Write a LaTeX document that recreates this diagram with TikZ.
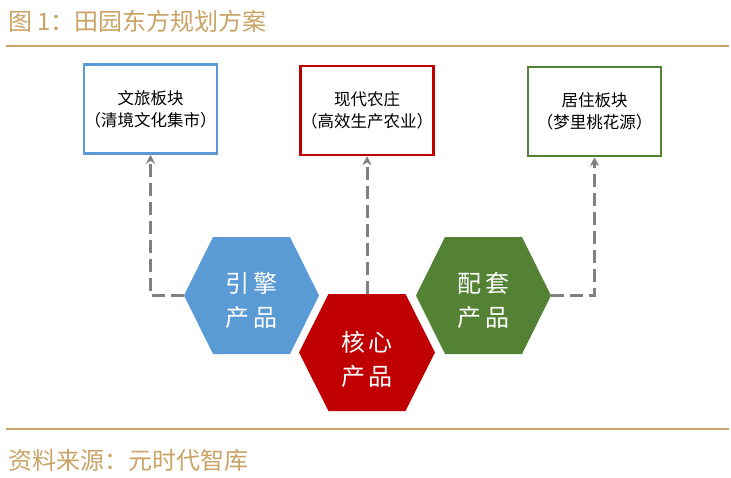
\documentclass[tikz,border=0pt]{standalone}
\usepackage{fontspec}
\setmainfont{Noto Sans CJK SC}
\usetikzlibrary{arrows.meta}
\definecolor{gold}{RGB}{201,164,102}
\definecolor{hexblue}{RGB}{91,155,213}
\definecolor{hexred}{RGB}{192,0,0}
\definecolor{hexgreen}{RGB}{84,130,53}
\definecolor{conngray}{RGB}{128,128,128}

\begin{document}
\begin{tikzpicture}[x=1pt, y=-1pt, >={Stealth[length=9pt,width=9pt]},
                    every edge/.style={draw, conngray, line width=3pt, dash pattern=on 13pt off 6pt},
                    plan/.style={draw, line width=2.5pt, minimum width=133pt, minimum height=89pt,
                                 align=center, inner sep=0pt, font=\fontsize{16.5}{22}\selectfont},
                    hexlabel/.style={text=white, align=center, inner sep=0pt, font=\fontsize{24}{34}\selectfont},
                    caption/.style={anchor=west, text=gold, inner sep=0pt, font=\fontsize{24}{28}\selectfont}]

\fill[white] (0,0) rectangle (731,477);
\useasboundingbox (0,0) rectangle (731,477);

\node[caption] (title) at (8,21) {图 1：田园东方规划方案};
\coordinate (ruleA) at (6,46);
\coordinate (ruleB) at (729,46);
\draw[gold, line width=2.5pt] (ruleA) -- (ruleB);

\node[plan, draw=hexblue] (wl) at (150.5,109) {文旅板块\\（清境文化集市）};
\node[plan, draw=hexred] (nz) at (367,110.5) {现代农庄\\（高效生产农业）};
\node[plan, draw=hexgreen] (jz) at (594.5,111.5) {居住板块\\（梦里桃花源）};

% hexagons
\fill[hexblue] (184,295.5) -- (213,237) -- (290,237) -- (319,295.5) -- (290,354) -- (213,354) -- cycle;
\fill[hexred] (299,352.5) -- (328.5,294) -- (405.5,294) -- (435,352.5) -- (405.5,411) -- (328.5,411) -- cycle;
\fill[hexgreen] (416,295.5) -- (445,237) -- (522,237) -- (551,295.5) -- (522,354) -- (445,354) -- cycle;

\node[hexlabel] (yq) at (251.5,300) {引\hspace{4pt}擎\\产\hspace{4pt}品};
\node[hexlabel] (hx) at (367,359) {核\hspace{4pt}心\\产\hspace{4pt}品};
\node[hexlabel] (pt) at (483.5,300) {配\hspace{4pt}套\\产\hspace{4pt}品};

\coordinate (yqW) at (184,295.5);
\coordinate (hxN) at (367,294);
\coordinate (ptE) at (551,295.5);

\path[->]
(yqW) edge [to path={-| (\tikztotarget)}] (wl.south)
(hxN) edge (nz.south)
(ptE) edge [to path={-| (\tikztotarget)}] (jz.south);

\coordinate (ruleC) at (6,429);
\coordinate (ruleD) at (729,429);
\draw[gold, line width=2.5pt] (ruleC) -- (ruleD);
\node[caption] (source) at (8,460) {资料来源：元时代智库};
\end{tikzpicture}
\end{document}
